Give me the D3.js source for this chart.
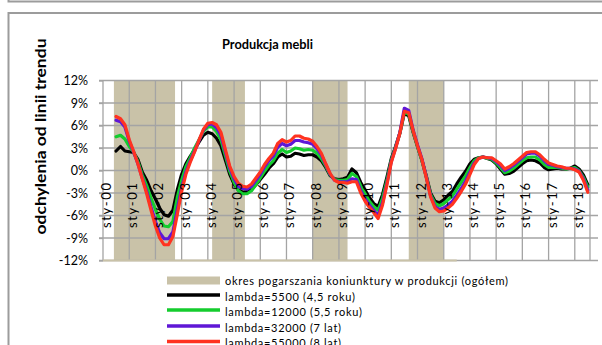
<!DOCTYPE html>
<html>
<head>
<meta charset="utf-8">
<script src="https://cdn.jsdelivr.net/npm/d3@7"></script>
<style>
  html, body { margin: 0; padding: 0; background: #fff; }
  svg { display: block; font-family: Lato, "Open Sans", sans-serif; }
</style>
</head>
<body>
<svg id="chart" width="602" height="345"></svg>
<script>
// Deviation from trend (%), sampled every two months from July 2000 to July 2018
const firstMonth = new Date(2000, 6, 1);

const lambda5500 = [
  2.6, 3.2, 2.6,
  2.5, 2.4, 1.5, -0.2, -1.3, -2.7,
  -3.8, -5.0, -5.9, -6.1, -5.3, -2.6,
  -0.5, 0.9, 1.9, 2.8, 3.8, 4.7,
  5.1, 4.9, 4.3, 3.3, 1.4, -0.5,
  -1.8, -2.6, -2.9, -2.8, -2.5, -1.9,
  -1.2, -0.5, 0.3, 0.9, 1.8, 2.2,
  1.8, 1.9, 2.3, 2.2, 2.0, 2.1,
  2.1, 1.8, 1.3, 0.4, -0.7, -1.1,
  -1.2, -1.1, -0.9, 0.2, -0.3, -1.6,
  -2.6, -3.6, -4.4, -4.8, -3.2, -0.9,
  1.6, 3.2, 5.0, 7.6, 7.3, 5.1,
  3.2, 1.4, -0.7, -3.0, -4.1, -4.3,
  -3.9, -3.3, -2.8, -1.8, -0.9, -0.1,
  0.9, 1.5, 1.7, 1.8, 1.6, 1.4,
  0.9, 0.2, -0.5, -0.4, -0.1, 0.4,
  0.9, 1.3, 1.4, 1.3, 1.0, 0.4,
  0.1, 0.2, 0.3, 0.2, 0.2, 0.3,
  0.6, 0.2, -0.6, -1.9
];

const lambda12000 = [
  4.5, 4.7, 4.2,
  3.2, 2.5, 1.2, -0.6, -2.0, -3.7,
  -5.2, -6.5, -7.4, -7.5, -6.8, -3.6,
  -1.3, 0.5, 1.7, 3.0, 4.1, 5.2,
  5.8, 5.8, 5.2, 4.1, 2.0, -0.1,
  -1.6, -2.7, -3.1, -3.1, -2.7, -1.9,
  -1.0, -0.1, 0.7, 1.3, 2.3, 2.8,
  2.4, 2.6, 3.0, 2.9, 2.7, 2.8,
  2.7, 2.3, 1.6, 0.6, -0.6, -1.2,
  -1.3, -1.3, -1.2, -0.4, -0.8, -2.1,
  -3.1, -4.1, -4.8, -5.3, -3.7, -1.3,
  1.4, 3.1, 5.0, 7.8, 7.5, 5.2,
  3.2, 1.4, -0.8, -3.2, -4.4, -4.7,
  -4.4, -3.9, -3.4, -2.5, -1.6, -0.7,
  0.4, 1.3, 1.7, 1.8, 1.6, 1.5,
  1.0, 0.4, -0.3, -0.1, 0.3, 0.8,
  1.3, 1.7, 1.8, 1.8, 1.4, 0.8,
  0.4, 0.4, 0.4, 0.3, 0.2, 0.3,
  0.4, 0.0, -0.9, -2.2
];

const lambda32000 = [
  6.7, 6.5, 5.8,
  3.9, 2.5, 0.9, -1.0, -2.8, -4.9,
  -6.8, -8.3, -9.1, -9.1, -8.2, -5.2,
  -2.3, -0.2, 1.3, 2.6, 4.0, 5.4,
  6.1, 6.2, 5.7, 4.7, 2.5, 0.3,
  -1.1, -2.1, -2.4, -2.5, -2.1, -1.3,
  -0.5, 0.5, 1.3, 1.9, 3.1, 3.6,
  3.3, 3.5, 4.0, 4.0, 3.8, 3.7,
  3.5, 2.9, 2.1, 0.8, -0.5, -1.3,
  -1.5, -1.5, -1.5, -1.1, -1.2, -2.7,
  -3.8, -4.6, -5.3, -6.0, -4.3, -1.7,
  1.2, 3.0, 5.1, 8.3, 8.0, 5.4,
  3.4, 1.6, -0.8, -3.4, -4.8, -5.2,
  -5.0, -4.6, -4.1, -3.3, -2.4, -1.4,
  -0.2, 1.0, 1.6, 1.8, 1.7, 1.6,
  1.2, 0.7, 0.0, 0.3, 0.7, 1.2,
  1.7, 2.2, 2.3, 2.3, 1.9, 1.3,
  0.8, 0.7, 0.5, 0.4, 0.3, 0.3,
  0.2, -0.1, -1.1, -2.6
];

const lambda55000 = [
  7.2, 6.9, 6.1,
  4.1, 2.6, 0.9, -1.1, -3.1, -5.3,
  -7.4, -9.0, -9.9, -9.9, -8.8, -5.9,
  -2.8, -0.5, 1.1, 2.5, 4.1, 5.5,
  6.3, 6.4, 6.1, 5.1, 2.8, 0.6,
  -0.8, -1.7, -2.1, -2.2, -1.8, -1.0,
  -0.2, 0.8, 1.6, 2.3, 3.6, 4.1,
  3.8, 4.0, 4.6, 4.6, 4.3, 4.2,
  3.9, 3.2, 2.3, 0.9, -0.4, -1.3,
  -1.6, -1.6, -1.7, -1.5, -1.5, -3.0,
  -4.1, -4.9, -5.6, -6.4, -4.6, -1.9,
  1.1, 2.9, 5.0, 7.9, 7.7, 5.3,
  3.3, 1.5, -0.9, -3.5, -5.0, -5.5,
  -5.4, -5.0, -4.5, -3.7, -2.8, -1.8,
  -0.5, 0.8, 1.6, 1.8, 1.7, 1.7,
  1.3, 0.9, 0.2, 0.5, 0.9, 1.4,
  1.9, 2.4, 2.5, 2.5, 2.1, 1.5,
  1.0, 0.8, 0.6, 0.5, 0.3, 0.3,
  0.1, -0.2, -1.3, -2.9
];

// Periods of worsening business conditions in industrial output
const slowdownPeriods = [
  ["2000-06", "2002-10"],
  ["2004-03", "2005-06"],
  ["2008-01", "2009-05"],
  ["2011-09", "2013-01"]
];
const slowdownSeriesSpan = ["2000-01", "2013-07"];

const valueTicks = [-12, -9, -6, -3, 0, 3, 6, 9, 12];
const yearTicks = d3.range(2000, 2019);

const chartTitle = "Produkcja mebli";
const axisTitle = "odchylenia od linii trendu";
const bandLabel = "okres pogarszania koniunktury w produkcji (ogółem)";
const seriesLabels = [
  "lambda=5500 (4,5 roku)",
  "lambda=12000 (5,5 roku)",
  "lambda=32000 (7 lat)",
  "lambda=55000 (8 lat)"
];

// ---------------------------------------------------------------
const svg = d3.select("#chart");
const parseMonth = d3.timeParse("%Y-%m");

const colors = ["#000000", "#14cc2e", "#5f17d6", "#ff3320"];
const bandColor = "#c9c2a8";
const gridColor = "#a4a4a4";

const plot = { left: 103, right: 590, top: 80.5, bottom: 260.5 };

const x = d3.scaleTime()
  .domain([new Date(2000, 0, 1), new Date(2018, 7, 1)])
  .range([plot.left, plot.right]);
const y = d3.scaleLinear()
  .domain([-12, 12])
  .range([plot.bottom, plot.top]);

// Outer frames
svg.append("rect")
  .attr("x", 8.5).attr("y", -30).attr("width", 700).attr("height", 31.5)
  .attr("fill", "none").attr("stroke", "#9c9c9c").attr("stroke-width", 2);
svg.append("rect")
  .attr("x", 8.5).attr("y", 13).attr("width", 700).attr("height", 400)
  .attr("fill", "#fff").attr("stroke", "#9c9c9c").attr("stroke-width", 2);

// Slowdown bands
svg.append("g")
  .selectAll("rect")
  .data(slowdownPeriods)
  .join("rect")
  .attr("x", d => x(parseMonth(d[0])))
  .attr("width", d => x(parseMonth(d[1])) - x(parseMonth(d[0])))
  .attr("y", plot.top)
  .attr("height", plot.bottom - plot.top)
  .attr("fill", bandColor);

// Gridlines
const grid = svg.append("g").attr("stroke", gridColor).attr("stroke-width", 1.3);
grid.selectAll("line.h")
  .data(valueTicks)
  .join("line")
  .attr("class", "h")
  .attr("x1", plot.left - 4).attr("x2", plot.right + 8)
  .attr("y1", d => y(d)).attr("y2", d => y(d));
grid.selectAll("line.v")
  .data(yearTicks.map(yr => new Date(yr, 0, 1)))
  .join("line")
  .attr("class", "v")
  .attr("x1", d => x(d)).attr("x2", d => x(d))
  .attr("y1", plot.top).attr("y2", plot.bottom);
grid.append("line")
  .attr("x1", plot.right).attr("x2", plot.right)
  .attr("y1", plot.top).attr("y2", plot.bottom);

// Baseline of the slowdown series
svg.append("line")
  .attr("x1", x(parseMonth(slowdownSeriesSpan[0])))
  .attr("x2", x(parseMonth(slowdownSeriesSpan[1])))
  .attr("y1", y(-12)).attr("y2", y(-12))
  .attr("stroke", bandColor).attr("stroke-width", 2);

// Value axis labels
const yAxis = svg.append("g")
  .attr("transform", `translate(${plot.left},0)`)
  .call(d3.axisLeft(y).tickValues(valueTicks).tickFormat(d => d + "%").tickSize(4).tickPadding(11));
yAxis.select(".domain").remove();
yAxis.selectAll(".tick line").attr("stroke", gridColor).attr("stroke-width", 1.3);
yAxis.selectAll("text")
  .attr("font-family", "Lato, 'Open Sans', sans-serif")
  .attr("font-size", 12.5).attr("fill", "#000");

// Series lines
const dates = lambda5500.map((_, i) => d3.timeMonth.offset(firstMonth, 2 * i));
const series = [lambda5500, lambda12000, lambda32000, lambda55000];
const line = d3.line()
  .x((d, i) => x(dates[i]))
  .y(d => y(d));
svg.append("g")
  .selectAll("path")
  .data(series)
  .join("path")
  .attr("d", d => line(d))
  .attr("fill", "none")
  .attr("stroke", (d, i) => colors[i])
  .attr("stroke-width", 3.2)
  .attr("stroke-linejoin", "round")
  .attr("stroke-linecap", "round");

// Date axis labels, vertical, just below the zero line
const fmtYear = d3.timeFormat("%y");
const xAxis = svg.append("g")
  .attr("transform", `translate(0,${y(0)})`)
  .call(d3.axisBottom(x)
    .tickValues(yearTicks.map(yr => new Date(yr, 0, 1)))
    .tickFormat(d => "sty-" + fmtYear(d))
    .tickSize(0));
xAxis.select(".domain").remove();
xAxis.selectAll("text")
  .attr("font-family", "Lato, 'Open Sans', sans-serif")
  .attr("font-size", 13)
  .attr("fill", "#000")
  .attr("text-anchor", "end")
  .attr("transform", "rotate(-90)")
  .attr("x", -12.5)
  .attr("y", 7.5)
  .attr("dy", 0)
  .attr("textLength", 45)
  .attr("lengthAdjust", "spacing");

// Titles
svg.append("text")
  .attr("x", 267.5).attr("y", 49)
  .attr("text-anchor", "middle")
  .attr("font-weight", "bold").attr("font-size", 12.5)
  .attr("textLength", 91).attr("lengthAdjust", "spacingAndGlyphs")
  .text(chartTitle);
svg.append("text")
  .attr("transform", "translate(45.5,136.5) rotate(-90)")
  .attr("text-anchor", "middle")
  .attr("font-weight", "bold").attr("font-size", 16)
  .attr("textLength", 196).attr("lengthAdjust", "spacingAndGlyphs")
  .text(axisTitle);

// Legend
const legendRows = [281.5, 297, 312, 328, 343.5];
const legendWidths = [283, 130, 137, 116, 116];
const legend = svg.append("g");
legend.append("rect")
  .attr("x", 167).attr("y", legendRows[0] - 5).attr("width", 53).attr("height", 8)
  .attr("fill", bandColor);
legend.selectAll("line")
  .data(seriesLabels)
  .join("line")
  .attr("x1", 167).attr("x2", 220)
  .attr("y1", (d, i) => legendRows[i + 1] - 2)
  .attr("y2", (d, i) => legendRows[i + 1] - 2)
  .attr("stroke", (d, i) => colors[i])
  .attr("stroke-width", 3.5);
legend.selectAll("text")
  .data([bandLabel, ...seriesLabels])
  .join("text")
  .attr("x", 225)
  .attr("y", (d, i) => legendRows[i])
  .attr("dy", "0.35em")
  .attr("font-size", 11)
  .attr("textLength", (d, i) => legendWidths[i])
  .attr("lengthAdjust", "spacing")
  .text(d => d);
</script>
</body>
</html>
